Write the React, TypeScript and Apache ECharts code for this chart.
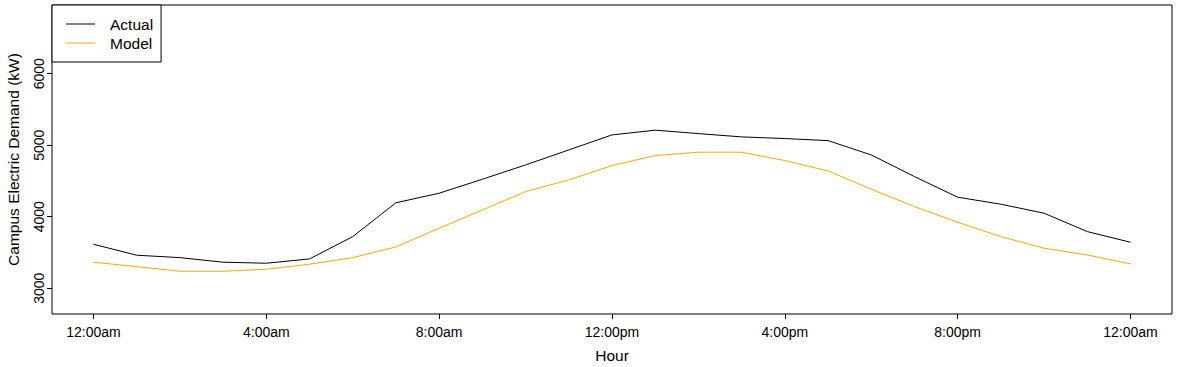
import React, { useEffect, useRef } from "react";
import * as echarts from "echarts";

const hours = [0, 1, 2, 3, 4, 5, 6, 7, 8, 9, 10, 11, 12, 13, 14, 15, 16, 17, 18, 19, 20, 21, 22, 23, 24];
const actual = [3615, 3462, 3428, 3364, 3350, 3410, 3722, 4195, 4329, 4524, 4724, 4934, 5144, 5210, 5162, 5116, 5093, 5064, 4864, 4561, 4273, 4175, 4049, 3792, 3643];
const model = [3364, 3302, 3238, 3238, 3266, 3336, 3428, 3578, 3839, 4095, 4351, 4515, 4715, 4855, 4902, 4902, 4785, 4640, 4385, 4142, 3923, 3722, 3559, 3466, 3340];
const xTickValues = [0, 4, 8, 12, 16, 20, 24];
const xTickLabels = ["12:00am", "4:00am", "8:00am", "12:00pm", "4:00pm", "8:00pm", "12:00am"];
const yTickValues = [3000, 4000, 5000, 6000];

const FONT = "Arial, 'Liberation Sans', sans-serif";

export default function App() {
  const ref = useRef<HTMLDivElement>(null);
  useEffect(() => {
    if (!ref.current) return;
    const chart = echarts.init(ref.current, null, { renderer: "svg" });
    chart.setOption({
      animation: false,
      backgroundColor: "#ffffff",
      textStyle: { fontFamily: FONT },
      grid: {
        left: 52,
        right: 5,
        top: 5,
        bottom: 53,
        show: true,
        borderColor: "#000",
        borderWidth: 1,
        containLabel: false,
        outerBoundsMode: "none",
      },
      legend: {
        left: 52,
        top: 5,
        orient: "vertical",
        backgroundColor: "#fff",
        borderColor: "#000",
        borderWidth: 1,
        borderRadius: 0,
        padding: [11, 8, 11, 14],
        icon: "rect",
        itemWidth: 29,
        itemHeight: 1,
        itemGap: 3,
        textStyle: { fontFamily: FONT, fontSize: 15.5, color: "#000", padding: [0, 0, 0, 10] },
        data: ["Actual", "Model"],
      },
      xAxis: {
        type: "value",
        min: -0.96,
        max: 24.96,
        name: "Hour",
        nameLocation: "middle",
        nameGap: 33,
        nameTextStyle: { fontFamily: FONT, fontSize: 15.5, color: "#000" },
        axisLine: { show: false, onZero: false },
        splitLine: { show: false },
        axisTick: { show: true, length: 5, customValues: xTickValues, lineStyle: { color: "#000" } },
        axisLabel: {
          customValues: xTickValues,
          fontFamily: FONT,
          fontSize: 14,
          color: "#000",
          margin: 11,
          formatter: (v: number) => xTickLabels[xTickValues.indexOf(v)] ?? "",
        },
      },
      yAxis: {
        type: "value",
        min: 2640,
        max: 6960,
        name: "Campus Electric Demand (kW)",
        nameLocation: "middle",
        nameGap: 31,
        nameRotate: 90,
        nameTextStyle: { fontFamily: FONT, fontSize: 15.5, color: "#000" },
        axisLine: { show: false, onZero: false },
        splitLine: { show: false },
        axisTick: { show: true, length: 5, customValues: yTickValues, lineStyle: { color: "#000" } },
        axisLabel: {
          customValues: yTickValues,
          rotate: 90,
          fontFamily: FONT,
          fontSize: 14,
          color: "#000",
          margin: 6,
          formatter: (v: number) => String(v),
        },
      },
      series: [
        {
          name: "Actual",
          type: "line",
          data: hours.map((h, i) => [h, actual[i]]),
          symbol: "none",
          lineStyle: { color: "#000", width: 1 },
          itemStyle: { color: "#000" },
        },
        {
          name: "Model",
          type: "line",
          data: hours.map((h, i) => [h, model[i]]),
          symbol: "none",
          lineStyle: { color: "#FFA500", width: 1 },
          itemStyle: { color: "#FFA500" },
        },
      ],
    });
    return () => chart.dispose();
  }, []);
  return <div ref={ref} style={{ position: "absolute", left: 0, top: 0, width: 1177, height: 367 }} />;
}
